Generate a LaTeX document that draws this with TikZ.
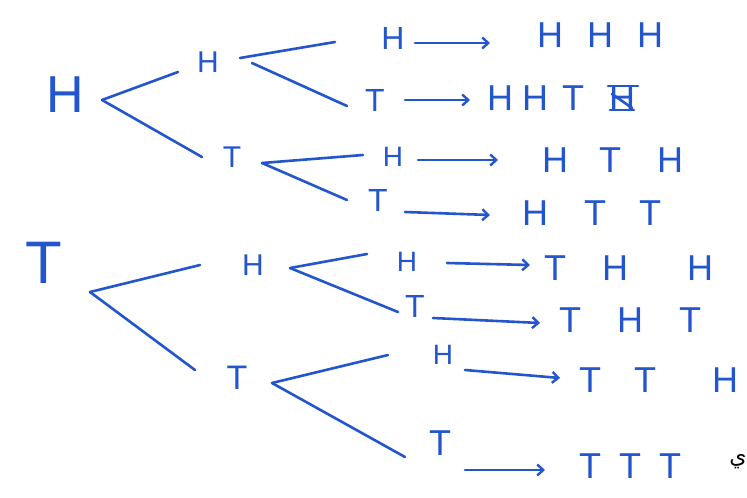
\documentclass[tikz,border=0pt]{standalone}
\usepackage{fontspec}
\setmainfont{Liberation Sans}
\newfontfamily\arabicfont[Script=Arabic]{DejaVu Sans}
\TeXXeTstate=1
\usetikzlibrary{arrows.meta}
\definecolor{ink}{RGB}{35,85,205}
\tikzset{
  letter/.style={inner sep=0pt, text=ink, font=\fontsize{#1}{#1}\selectfont},
  outcome/.style={inner sep=0pt, anchor=west, text=ink, font=\fontsize{36}{36}\selectfont},
  branch/.style={draw=ink, line width=2.6pt, line cap=round},
  arr/.style={draw=ink, line width=2.6pt, line cap=round, -{Straight Barb[length=6pt,width=11pt,line width=2.4pt]}}
}
\begin{document}
\begin{tikzpicture}[x=1pt,y=-1pt]
\useasboundingbox[fill=white] (0,0) rectangle (747,498);
% roots
\node[letter=52] (rH) at (65,95) {H};
\node[letter=60] (rT) at (44,263) {T};
% level 2
\node[letter=30] (h2a) at (208,62) {H};
\node[letter=30] (t2a) at (232,157) {T};
\node[letter=30] (h2b) at (253,265) {H};
\node[letter=34] (t2b) at (237,378) {T};
% level 3
\node[letter=32] (h3a) at (393,38) {H};
\node[letter=32] (t3a) at (375,100) {T};
\node[letter=28] (h3b) at (393,157) {H};
\node[letter=32] (t3b) at (378,200) {T};
\node[letter=28] (h3c) at (407,262) {H};
\node[letter=32] (t3c) at (415,306) {T};
\node[letter=28] (h3d) at (443,355) {H};
\node[letter=36] (t3d) at (440,443) {T};
% outcomes
\node[outcome] (o1) at (537,35) {H\hspace{24pt}H\hspace{24pt}H};
\node[outcome] (o2) at (487,98) {H\hspace{9pt}H\hspace{14pt}T};
\node[letter=36] (x2) at (622,98) {H};
\node[outcome] (o3) at (542,160) {H\hspace{31pt}T\hspace{36pt}H};
\node[outcome] (o4) at (522,213) {H\hspace{36pt}T\hspace{33pt}T};
\node[outcome] (o5) at (544,268) {T\hspace{36pt}H\hspace{59pt}H};
\node[outcome] (o6) at (559,320) {T\hspace{36pt}H\hspace{36pt}T};
\node[outcome] (o7) at (579,380) {T\hspace{33pt}T\hspace{56pt}H};
\node[outcome] (o8) at (579,466) {T\hspace{18pt}T\hspace{18pt}T};
\node[inner sep=0pt, font=\arabicfont\fontsize{22}{22}\selectfont] (ya) at (738,462) {\beginR ي\endR};
% scribble over the crossed-out letter
\draw[branch] ([shift={(-14,-12)}]x2.center) -- ([shift={(16,-12)}]x2.center);
\draw[branch] ([shift={(-10,-4)}]x2.center) -- ([shift={(10,10)}]x2.center);
\draw[branch] ([shift={(-12,12)}]x2.center) -- ([shift={(12,12)}]x2.center);
% branches from H root
\draw[branch] ([shift={(37,5)}]rH.center) -- ([shift={(-30,10)}]h2a.center);
\draw[branch] ([shift={(37,5)}]rH.center) -- ([shift={(-30,0)}]t2a.center);
\draw[branch] ([shift={(32,-4)}]h2a.center) -- ([shift={(-58,4)}]h3a.center);
\draw[branch] ([shift={(44,1)}]h2a.center) -- ([shift={(-28,6)}]t3a.center);
\draw[branch] ([shift={(30,6)}]t2a.center) -- ([shift={(-30,-2)}]h3b.center);
\draw[branch] ([shift={(30,6)}]t2a.center) -- ([shift={(-31,0)}]t3b.center);
% branches from T root
\draw[branch] ([shift={(46,29)}]rT.center) -- ([shift={(-53,0)}]h2b.center);
\draw[branch] ([shift={(46,29)}]rT.center) -- ([shift={(-42,-8)}]t2b.center);
\draw[branch] ([shift={(37,3)}]h2b.center) -- ([shift={(-40,-8)}]h3c.center);
\draw[branch] ([shift={(37,3)}]h2b.center) -- ([shift={(-17,6)}]t3c.center);
\draw[branch] ([shift={(35,5)}]t2b.center) -- ([shift={(-55,0)}]h3d.center);
\draw[branch] ([shift={(35,5)}]t2b.center) -- ([shift={(-35,14)}]t3d.center);
% arrows to outcomes
\draw[arr] ([shift={(22,5)}]h3a.center) -- ([shift={(-47,8)}]o1.west);
\draw[arr] ([shift={(30,0)}]t3a.center) -- ([shift={(-17,2)}]o2.west);
\draw[arr] ([shift={(25,3)}]h3b.center) -- ([shift={(-44,0)}]o3.west);
\draw[arr] ([shift={(27,12)}]t3b.center) -- ([shift={(-32,2)}]o4.west);
\draw[arr] ([shift={(40,1)}]h3c.center) -- ([shift={(-14,-3)}]o5.west);
\draw[arr] ([shift={(18,12)}]t3c.center) -- ([shift={(-19,3)}]o6.west);
\draw[arr] ([shift={(22,15)}]h3d.center) -- ([shift={(-19,-2)}]o7.west);
\draw[arr] ([shift={(25,27)}]t3d.center) -- ([shift={(-34,4)}]o8.west);
\end{tikzpicture}
\end{document}
